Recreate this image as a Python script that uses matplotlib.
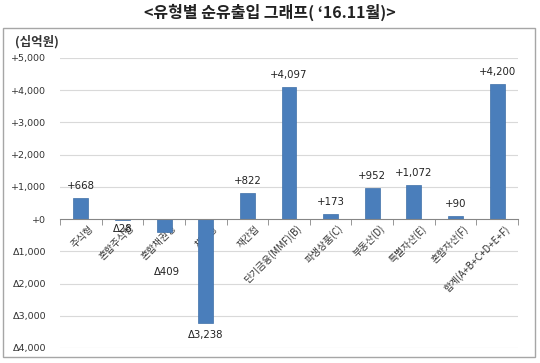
import numpy as np
import matplotlib
matplotlib.use('Agg')
import matplotlib.pyplot as plt
import matplotlib.transforms as mtransforms
from matplotlib.patches import Rectangle

plt.rcParams['font.family'] = ['Noto Sans CJK KR', 'DejaVu Sans']
NUM_FONT = ['DejaVu Sans']

categories = ['주식형', '혼합주식형', '혼합채권형', '채권형', '재간접', '단기금융(MMF)(B)',
              '파생상품(C)', '부동산(D)', '특별자산(E)', '혼합자산(F)', '합계(A+B+C+D+E+F)']
values = [668, -28, -409, -3238, 822, 4097, 173, 952, 1072, 90, 4200]
yticks = [5000, 4000, 3000, 2000, 1000, 0, -1000, -2000, -3000, -4000]


def fmt(v):
    if v < 0:
        return '\u0394{:,}'.format(-v)
    return '+{:,}'.format(v)


fig = plt.figure(figsize=(5.4, 3.63), dpi=100)
fig.patch.set_facecolor('white')

# outer chart frame
fig.patches.append(Rectangle((3 / 540, 1 - 357 / 363), 532 / 540, 329 / 363,
                             transform=fig.transFigure, fill=False,
                             edgecolor='#a6a6a6', linewidth=1.0))

fig.text(0.5, 1 - 12 / 363, "<유형별 순유출입 그래프( \u201816.11월)>",
         ha='center', va='center', fontsize=11.5, fontweight='bold', color='#222222')
fig.text(15 / 540, 1 - 42 / 363, '(십억원)', ha='left', va='center',
         fontsize=9, fontweight='bold', color='#333333')

ax = fig.add_axes([60 / 540, 1 - 348 / 363, 458 / 540, 290 / 363])
x = np.arange(len(categories))
ax.bar(x, values, width=0.36, color='#4a7ebb', edgecolor='#3f6fa8', linewidth=0.5, zorder=3)

ax.set_xlim(-0.5, len(categories) - 0.5)
ax.set_ylim(-4000, 5000)
ax.set_yticks(yticks)
ax.set_yticklabels([fmt(v) for v in yticks], fontsize=6.8, color='#333333', family=NUM_FONT)
ax.tick_params(axis='y', length=0, pad=10)

for g in yticks:
    if g != 0:
        ax.axhline(g, color='#d9d9d9', linewidth=0.8, zorder=1)

for s in ['left', 'right', 'top']:
    ax.spines[s].set_visible(False)
ax.spines['bottom'].set_position(('data', 0))
ax.spines['bottom'].set_color('#868686')
ax.spines['bottom'].set_zorder(4)

ax.set_xticks(x)
ax.set_xticklabels(categories, rotation=45, ha='right', rotation_mode='anchor',
                   fontsize=7, color='#333333')
ax.set_xticks(np.arange(len(categories) + 1) - 0.5, minor=True)
ax.tick_params(axis='x', which='major', length=0, pad=3)
ax.tick_params(axis='x', which='minor', length=4, color='#868686', direction='out')
offset = mtransforms.ScaledTranslation(7 / 100, 0, fig.dpi_scale_trans)
for lab in ax.get_xticklabels():
    lab.set_transform(lab.get_transform() + offset)

for i, v in enumerate(values):
    if v >= 0:
        dy, va = 5, 'bottom'
    elif v > -100:
        dy, va = -3, 'top'
    elif v > -1000:
        dy, va = -25, 'top'
    else:
        dy, va = -5, 'top'
    ax.annotate(fmt(v), (i, v), xytext=(2 if -1000 < v < -100 else 0, dy),
                textcoords='offset points', ha='center', va=va,
                fontsize=7.3, color='#222222', family=NUM_FONT)

fig.savefig('out.png', dpi=100)
